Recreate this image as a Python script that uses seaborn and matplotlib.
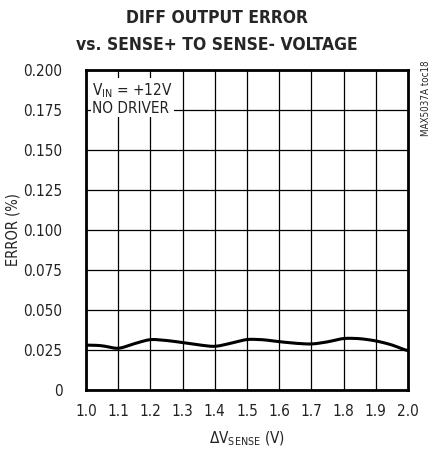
import numpy as np
import pandas as pd
import matplotlib
matplotlib.use("Agg")
import matplotlib.pyplot as plt
import seaborn as sns

# values
v_sense = [1.0, 1.05, 1.1, 1.15, 1.2, 1.25, 1.3, 1.35, 1.4, 1.45, 1.5,
           1.55, 1.6, 1.65, 1.7, 1.75, 1.8, 1.85, 1.9, 1.95, 2.0]
error_pct = [0.0281, 0.0278, 0.0256, 0.0290, 0.0318, 0.0310, 0.0297, 0.0282, 0.0270, 0.0292, 0.0318,
             0.0315, 0.0302, 0.0292, 0.0286, 0.0300, 0.0324, 0.0322, 0.0308, 0.0283, 0.0243]
x_ticks = [1.0, 1.1, 1.2, 1.3, 1.4, 1.5, 1.6, 1.7, 1.8, 1.9, 2.0]
y_ticks = [0, 0.025, 0.05, 0.075, 0.1, 0.125, 0.15, 0.175, 0.2]
y_labels = ["0", "0.025", "0.050", "0.075", "0.100", "0.125", "0.150", "0.175", "0.200"]

df = pd.DataFrame({"v": v_sense, "err": error_pct})

sns.set_style("white")
plt.rcParams["font.family"] = ["DejaVu Sans"]
plt.rcParams["font.stretch"] = "condensed"
plt.rcParams["mathtext.fontset"] = "custom"
plt.rcParams["mathtext.rm"] = "DejaVu Sans:stretch=condensed"

fig = plt.figure(figsize=(4.33, 4.5), dpi=100)
ax = fig.add_axes([0.1986, 0.1333, 0.7434, 0.7111])

# light smoothing so the trace looks like the scope curve
xs = np.linspace(1.0, 2.0, 400)
ys = np.interp(xs, df["v"], df["err"])
k = np.ones(15) / 15
ys_s = np.convolve(np.pad(ys, 7, mode="edge"), k, mode="valid")
sns.lineplot(x=xs, y=ys_s, ax=ax, color="black", linewidth=2.2)

ax.set_xlim(1.0, 2.0)
ax.set_ylim(0, 0.2)
ax.set_xticks(x_ticks)
ax.set_xticklabels([f"{t:.1f}" for t in x_ticks])
ax.set_yticks(y_ticks)
ax.set_yticklabels(y_labels)
ax.grid(True, color="black", linewidth=0.9)
ax.tick_params(axis="y", length=0, labelsize=11, pad=17, labelcolor="#222222")
ax.tick_params(axis="x", length=0, labelsize=11, pad=10, labelcolor="#222222")
for s in ax.spines.values():
    s.set_linewidth(2)
    s.set_color("black")

ax.set_xlabel(r"$\Delta$V$_{\mathrm{SENSE}}$ (V)", fontsize=11, color="#222222", labelpad=8)
ax.set_ylabel("ERROR (%)", fontsize=10.5, color="#222222")
ax.yaxis.set_label_coords(-0.203, 0.5)
fig.suptitle("DIFF OUTPUT ERROR\nvs. SENSE+ TO SENSE- VOLTAGE", fontsize=12.5,
             fontweight="heavy", y=0.98, linespacing=1.65)

ax.text(1.02, 0.193, "V$_{\\mathrm{IN}}$ = +12V\nNO DRIVER", fontsize=11,
        va="top", ha="left", linespacing=1.05, color="#222222",
        bbox=dict(facecolor="white", edgecolor="none", pad=1))
ax.text(1.055, 1.03, "MAX5037A toc18", transform=ax.transAxes, rotation=90,
        fontsize=7, va="top", ha="center")

fig.savefig("out.png", dpi=100)
